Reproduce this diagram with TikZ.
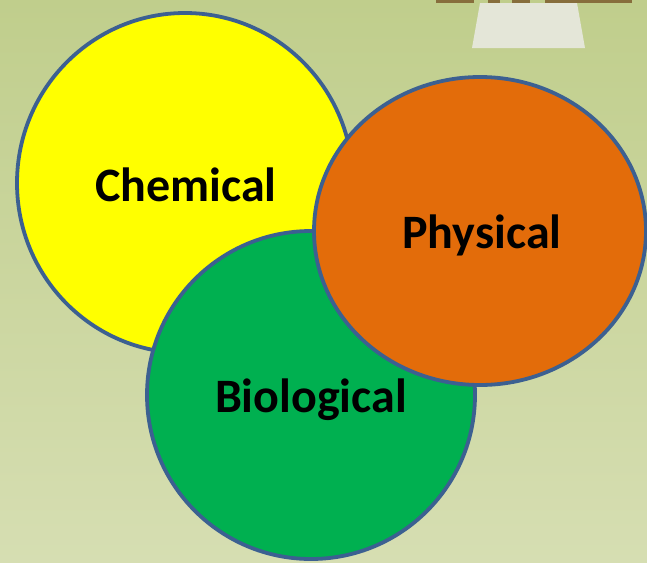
\documentclass[tikz,border=0pt]{standalone}
\usepackage{fontspec}
\setmainfont{Carlito}
\usetikzlibrary{shapes.geometric}
\definecolor{bgtop}{RGB}{192,206,140}
\definecolor{bgbot}{RGB}{214,222,178}
\definecolor{rim}{RGB}{60,96,145}
\definecolor{chemfill}{RGB}{255,255,0}
\definecolor{biofill}{RGB}{0,176,80}
\definecolor{physfill}{RGB}{227,108,10}
\definecolor{plate}{RGB}{228,230,216}
\definecolor{gold}{RGB}{135,110,60}
\tikzset{
  blob/.style={ellipse, draw=rim, line width=3.8pt, inner sep=0pt},
  lbl/.style={font=\fontsize{48}{56}\selectfont\bfseries, text=black, inner sep=0pt},
}
\begin{document}
\begin{tikzpicture}[x=1pt,y=-1pt]
\useasboundingbox (0,0) rectangle (647,562);
\shade[top color=bgtop, bottom color=bgbot] (0,0) rectangle (647,562);
% background fragment at top right
\fill[plate] (480,3) -- (577,3) -- (585,48) -- (472,48) -- cycle;
\fill[gold] (436,0) rectangle (474,3);
\fill[gold] (488,0) rectangle (500,3);
\fill[gold] (512,0) rectangle (530,3);
\fill[gold] (545,0) rectangle (632,3);
% circles
\node[blob, fill=chemfill, minimum width=336pt, minimum height=340pt] (chem) at (185,183) {};
\node[blob, fill=biofill, minimum width=328pt, minimum height=328pt] (bio) at (311,395) {};
\node[blob, fill=physfill, minimum width=332pt, minimum height=308pt] (phys) at (480,231) {};
\node[lbl] (chemt) at (186,185) {Chemical};
\node[lbl] (biot) at (311,400) {Biological};
\node[lbl] (physt) at (482,235) {Physical};
\end{tikzpicture}
\end{document}
